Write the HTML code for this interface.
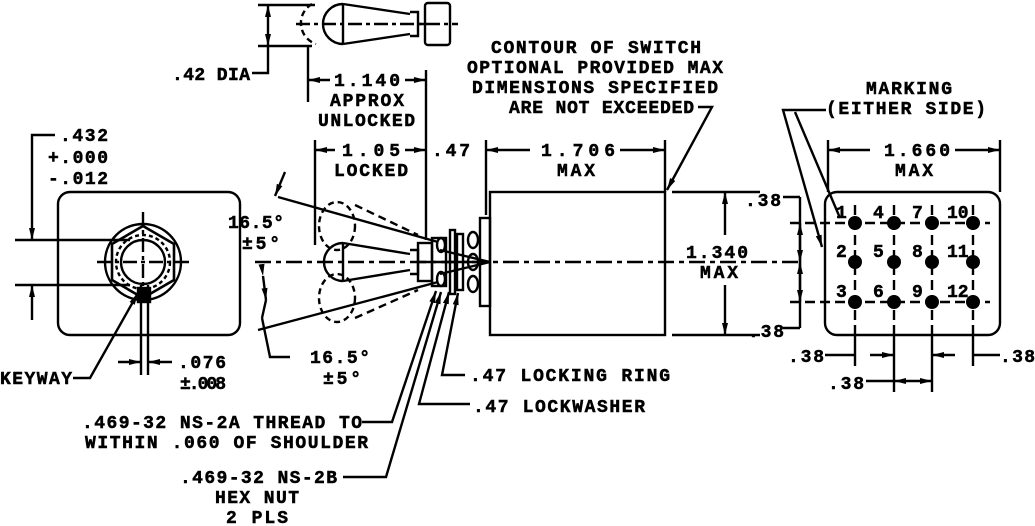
<!DOCTYPE html>
<html><head><meta charset="utf-8"><style>
html,body{margin:0;padding:0;background:#fff;}
svg{display:block;}
text{font-family:"Liberation Mono",monospace;font-weight:bold;font-size:18px;fill:#000;stroke:#000;stroke-width:0.5;}
</style></head><body>
<svg width="1035" height="526" viewBox="0 0 1035 526" xmlns="http://www.w3.org/2000/svg">
<defs>
<marker id="a" viewBox="0 0 12 6" refX="12" refY="3" markerWidth="12" markerHeight="6" orient="auto" markerUnits="userSpaceOnUse"><path d="M0,0L12,3L0,6z" fill="#000"/></marker>
</defs>
<g stroke="#000" stroke-width="2.4" fill="none">
<rect x="58" y="192" width="182" height="143" rx="12"/>
<circle cx="143" cy="262" r="38"/>
<polygon points="143,226 174,244 174,280 143,298 112,280 112,244" stroke-width="2.6"/>
<circle cx="143" cy="262" r="27" stroke-dasharray="4,3"/>
<circle cx="143" cy="262" r="22"/>
<line x1="143" y1="212" x2="143" y2="300" stroke-dasharray="14,4,4,4"/>
<line x1="97" y1="262" x2="192" y2="262" stroke-dasharray="14,4,4,4"/>
<line x1="15" y1="240" x2="130" y2="240"/>
<line x1="15" y1="285" x2="130" y2="285"/>
<polyline points="55,135 32,135 32,240" marker-end="url(#a)"/>
<line x1="32" y1="320" x2="32" y2="285" marker-end="url(#a)"/>
<line x1="141" y1="285" x2="141" y2="375"/>
<line x1="148" y1="285" x2="148" y2="375"/>
<rect x="138" y="288" width="12" height="14" fill="#000"/>
<line x1="118" y1="362" x2="141" y2="362" marker-end="url(#a)"/>
<line x1="172" y1="362" x2="148" y2="362" marker-end="url(#a)"/>
<polyline points="73,378 90,378 138,293" marker-end="url(#a)"/>

<line x1="258" y1="5" x2="315" y2="5"/>
<line x1="258" y1="46" x2="312" y2="46"/>
<line x1="268" y1="25" x2="268" y2="5" marker-end="url(#a)"/>
<line x1="268" y1="25" x2="268" y2="46" marker-end="url(#a)"/>
<polyline points="252,73 268,73 268,46"/>
<path d="M343,4 A20,20 0 0 0 343,44" />
<path d="M312,4 A22,22 0 0 0 316,44" stroke-dasharray="6,4"/>
<line x1="343" y1="4" x2="343" y2="44"/>
<line x1="343" y1="4" x2="410" y2="14"/>
<line x1="343" y1="44" x2="410" y2="34"/>
<polyline points="410,12 418,12 418,36 410,36"/>
<rect x="425" y="3" width="25" height="42" rx="3"/>
<line x1="418" y1="24" x2="425" y2="24"/>
<line x1="296" y1="24" x2="458" y2="24" stroke-dasharray="14,4,4,4"/>
<line x1="308" y1="45" x2="308" y2="102"/>
<line x1="426" y1="70" x2="426" y2="240"/>
<line x1="330" y1="80" x2="308" y2="80" marker-end="url(#a)"/>
<line x1="405" y1="80" x2="426" y2="80" marker-end="url(#a)"/>
<line x1="315" y1="140" x2="315" y2="245"/>
<line x1="335" y1="150" x2="315" y2="150" marker-end="url(#a)"/>
<line x1="405" y1="150" x2="426" y2="150" marker-end="url(#a)"/>
<line x1="486" y1="140" x2="486" y2="215"/>
<line x1="530" y1="150" x2="486" y2="150" marker-end="url(#a)"/>
<line x1="620" y1="150" x2="665" y2="150" marker-end="url(#a)"/>
<line x1="665" y1="140" x2="665" y2="192"/>
<polyline points="698,107 712,107 667,190" marker-end="url(#a)"/>

<rect x="490" y="192" width="175" height="143"/>
<rect x="480" y="218" width="10" height="88"/>
<line x1="255" y1="262" x2="802" y2="262" stroke-dasharray="16,5,5,5"/>
<path d="M343,243 A19,19 0 0 0 343,281"/>
<line x1="343" y1="243" x2="343" y2="281"/>
<line x1="343" y1="243" x2="410" y2="254"/>
<line x1="343" y1="281" x2="410" y2="270"/>
<polyline points="410,250 418,250 418,274 410,274"/>
<rect x="418" y="243" width="14" height="38"/>
<rect x="432" y="238" width="14" height="48"/>
<ellipse cx="441" cy="245" rx="4" ry="7"/>
<ellipse cx="441" cy="279" rx="4" ry="7"/>
<rect x="450" y="230" width="5" height="64"/>
<rect x="457" y="234" width="6" height="56"/>
<ellipse cx="473" cy="240" rx="5" ry="8"/>
<ellipse cx="473" cy="262" rx="5" ry="8"/>
<ellipse cx="473" cy="284" rx="5" ry="8"/>
<line x1="418" y1="262" x2="490" y2="262"/>
<line x1="440" y1="250" x2="490" y2="262"/>
<line x1="440" y1="274" x2="490" y2="262"/>
<ellipse cx="337" cy="226" rx="18" ry="24" stroke-dasharray="6,4"/>
<ellipse cx="337" cy="298" rx="18" ry="24" stroke-dasharray="6,4"/>
<line x1="355" y1="205" x2="418" y2="235" stroke-dasharray="8,5"/>
<line x1="355" y1="318" x2="418" y2="290" stroke-dasharray="8,5"/>
<line x1="278" y1="197" x2="438" y2="242"/>
<line x1="258" y1="330" x2="438" y2="282"/>
<line x1="285" y1="172" x2="275" y2="196" marker-end="url(#a)"/>
<polyline points="290,357 270,357 262,318" />
<line x1="266" y1="300" x2="262" y2="318" />
<line x1="263" y1="276" x2="266" y2="300" marker-start="url(#a)" marker-end="url(#a)"/>
<line x1="672" y1="192" x2="760" y2="192"/>
<line x1="672" y1="335" x2="760" y2="335"/>
<line x1="725" y1="235" x2="725" y2="192" marker-end="url(#a)"/>
<line x1="725" y1="285" x2="725" y2="335" marker-end="url(#a)"/>

<polyline points="362,422 392,422 436,291" marker-end="url(#a)"/>
<polyline points="343,477 386,477 441,292" marker-end="url(#a)"/>
<polyline points="470,404 419,404 449,292" marker-end="url(#a)"/>
<polyline points="465,375 442,375 458,293" marker-end="url(#a)"/>

<rect x="825" y="192" width="175" height="143" rx="12"/>
<g stroke-dasharray="10,5">
<line x1="790" y1="223" x2="990" y2="223"/>
<line x1="790" y1="302" x2="990" y2="302"/>
<line x1="855" y1="205" x2="855" y2="335"/>
<line x1="894" y1="205" x2="894" y2="335"/>
<line x1="932" y1="205" x2="932" y2="335"/>
<line x1="973" y1="205" x2="973" y2="335"/>
</g>
<line x1="783" y1="197" x2="800" y2="197"/>
<line x1="783" y1="328" x2="800" y2="328"/>
<line x1="800" y1="197" x2="800" y2="328"/>
<line x1="800" y1="245" x2="800" y2="223" marker-end="url(#a)"/>
<line x1="800" y1="245" x2="800" y2="262" marker-end="url(#a)"/>
<line x1="800" y1="280" x2="800" y2="262" marker-end="url(#a)"/>
<line x1="800" y1="280" x2="800" y2="302" marker-end="url(#a)"/>
<line x1="855" y1="335" x2="855" y2="366"/>
<line x1="894" y1="335" x2="894" y2="392"/>
<line x1="932" y1="335" x2="932" y2="392"/>
<line x1="973" y1="335" x2="973" y2="366"/>
<line x1="825" y1="355" x2="855" y2="355"/>
<line x1="870" y1="355" x2="894" y2="355" marker-end="url(#a)"/>
<line x1="1000" y1="355" x2="973" y2="355"/>
<line x1="955" y1="355" x2="932" y2="355" marker-end="url(#a)"/>
<line x1="866" y1="381" x2="894" y2="381"/>
<line x1="913" y1="381" x2="894" y2="381" marker-end="url(#a)"/>
<line x1="913" y1="381" x2="932" y2="381" marker-end="url(#a)"/>
<line x1="828" y1="140" x2="828" y2="192"/>
<line x1="1000" y1="140" x2="1000" y2="192"/>
<line x1="870" y1="150" x2="828" y2="150" marker-end="url(#a)"/>
<line x1="955" y1="150" x2="1000" y2="150" marker-end="url(#a)"/>
<polyline points="826,110 783,110 822,247" marker-end="url(#a)"/>
<line x1="795" y1="112" x2="840" y2="218"/>
</g>
<g fill="#000">
<circle cx="855" cy="223" r="7"/><circle cx="894" cy="223" r="7"/><circle cx="932" cy="223" r="7"/><circle cx="973" cy="223" r="7"/>
<circle cx="855" cy="262" r="7"/><circle cx="894" cy="262" r="7"/><circle cx="932" cy="262" r="7"/><circle cx="973" cy="262" r="7"/>
<circle cx="855" cy="302" r="7"/><circle cx="894" cy="302" r="7"/><circle cx="932" cy="302" r="7"/><circle cx="973" cy="302" r="7"/>
</g>
<g font-size="15">
<text x="836" y="218">1</text><text x="873" y="218">4</text><text x="912" y="218">7</text><text x="947" y="218">10</text>
<text x="836" y="257">2</text><text x="873" y="257">5</text><text x="912" y="257">8</text><text x="947" y="257">11</text>
<text x="836" y="297">3</text><text x="873" y="297">6</text><text x="912" y="297">9</text><text x="947" y="297">12</text>
</g>
<text x="172" y="80" textLength="78">.42 DIA</text>
<text x="334" y="86" textLength="66">1.140</text>
<text x="330" y="106" textLength="74">APPROX</text>
<text x="318" y="126" textLength="97">UNLOCKED</text>
<text x="342" y="156" textLength="58">1.05</text>
<text x="334" y="176" textLength="74">LOCKED</text>
<text x="432" y="156" textLength="38">.47</text>
<text x="491" y="53" textLength="210">CONTOUR OF SWITCH</text>
<text x="467" y="73" textLength="256">OPTIONAL PROVIDED MAX</text>
<text x="472" y="93" textLength="246">DIMENSIONS SPECIFIED</text>
<text x="509" y="113" textLength="185">ARE NOT EXCEEDED</text>
<text x="541" y="156" textLength="74">1.706</text>
<text x="557" y="176" textLength="38">MAX</text>
<text x="686" y="258" textLength="62">1.340</text>
<text x="700" y="278" textLength="38">MAX</text>
<text x="60" y="141" textLength="48">.432</text>
<text x="48" y="163" textLength="60">+.000</text>
<text x="48" y="184" textLength="60">-.012</text>
<text x="0" y="384" textLength="72">KEYWAY</text>
<text x="178" y="368" textLength="48">.076</text>
<text x="180" y="389" textLength="46">±.008</text>
<text x="228" y="228" textLength="56">16.5°</text>
<text x="242" y="249" textLength="38">±5°</text>
<text x="310" y="363" textLength="60">16.5°</text>
<text x="323" y="384" textLength="38">±5°</text>
<text x="470" y="381" textLength="200">.47 LOCKING RING</text>
<text x="473" y="412" textLength="172">.47 LOCKWASHER</text>
<text x="82" y="428" textLength="280">.469-32 NS-2A THREAD TO</text>
<text x="85" y="448" textLength="283">WITHIN .060 OF SHOULDER</text>
<text x="180" y="483" textLength="157">.469-32 NS-2B</text>
<text x="215" y="503" textLength="84">HEX NUT</text>
<text x="226" y="523" textLength="62">2 PLS</text>
<text x="866" y="94" textLength="86">MARKING</text>
<text x="826" y="114" textLength="160">(EITHER SIDE)</text>
<text x="884" y="156" textLength="66">1.660</text>
<text x="895" y="176" textLength="38">MAX</text>
<text x="745" y="206" textLength="36">.38</text>
<text x="748" y="337" textLength="36">.38</text>
<text x="788" y="362" textLength="36">.38</text>
<text x="1000" y="362" textLength="35">.38</text>
<text x="828" y="389" textLength="36">.38</text>
</svg>
</body></html>
